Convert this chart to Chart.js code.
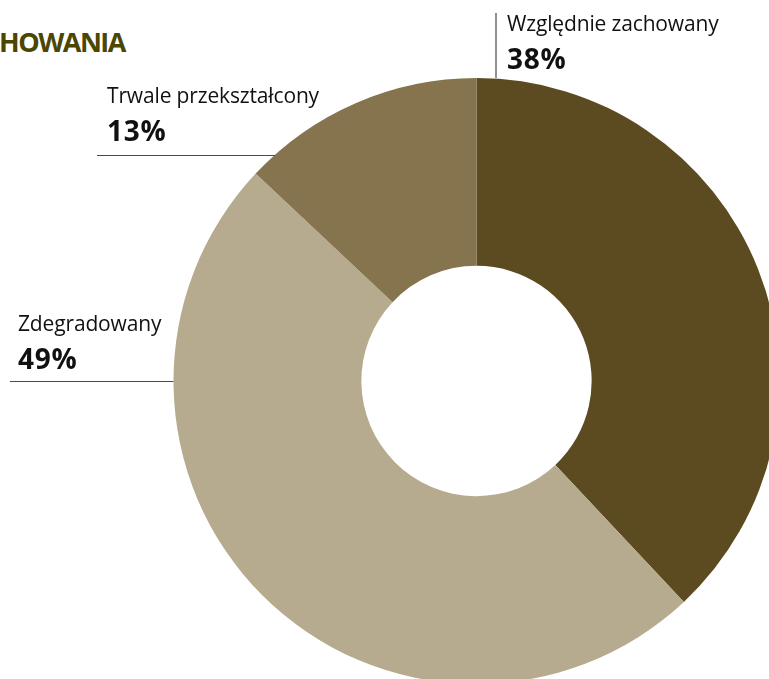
<!DOCTYPE html>
<html>
<head>
<meta charset="utf-8">
<script src="https://cdn.jsdelivr.net/npm/chart.js@4"></script>
<style>
html,body{margin:0;padding:0;width:769px;height:679px;overflow:hidden;background:#fff;}
#wrap{position:absolute;left:0;top:0;width:800px;height:700px;}
canvas{position:absolute;left:0;top:0;}
.lbl{position:absolute;font-family:"Open Sans",sans-serif;color:#111;white-space:nowrap;line-height:1;}
.name{font-size:21px;letter-spacing:-0.15px;}
.pct{font-size:28px;font-weight:700;margin-top:10px;letter-spacing:0.8px;}
#title{position:absolute;left:-1px;top:27.5px;font-family:"Open Sans",sans-serif;font-weight:700;font-size:27px;color:#4b4600;line-height:1;letter-spacing:-1.5px;}
</style>
</head>
<body>
<div id="title">HOWANIA</div>
<div id="wrap"><canvas id="c" width="800" height="700"></canvas></div>
<div id="labels"></div>
<script>
const categories = ["Względnie zachowany", "Zdegradowany", "Trwale przekształcony"];
const shares = [38, 49, 13];
const colors = ["#5c4a20", "#b7ab8f", "#85744d"];
const labelPos = [
  {x: 507, y: 12.5},
  {x: 18, y: 312.5},
  {x: 107, y: 84.5}
];

const leaderPlugin = {
  id: 'leaders',
  afterDraw(chart) {
    const meta = chart.getDatasetMeta(0);
    const arc = meta.data[0];
    const cx = arc.x, cy = arc.y, r = arc.outerRadius;
    const ctx = chart.ctx;
    ctx.save();
    ctx.strokeStyle = '#4a4a4a';
    ctx.lineWidth = 1.2;
    ctx.beginPath();
    ctx.moveTo(cx + 19.5, cy - r);
    ctx.lineTo(cx + 19.5, 13);
    ctx.moveTo(97, 155.5);
    ctx.lineTo(275, 155.5);
    ctx.moveTo(10, cy + 0.5);
    ctx.lineTo(cx - r, cy + 0.5);
    ctx.stroke();
    ctx.restore();
  }
};

new Chart(document.getElementById('c'), {
  type: 'doughnut',
  data: {
    labels: categories,
    datasets: [{
      data: shares,
      backgroundColor: colors,
      borderWidth: 0,
      hoverOffset: 0
    }]
  },
  options: {
    responsive: false,
    animation: false,
    cutout: '38%',
    rotation: 0,
    layout: {padding: {left: 173, top: 78, right: 20, bottom: 16}},
    plugins: {legend: {display: false}, tooltip: {enabled: false}}
  },
  plugins: [leaderPlugin]
});

const lab = document.getElementById('labels');
categories.forEach((c, i) => {
  const d = document.createElement('div');
  d.className = 'lbl';
  d.style.left = labelPos[i].x + 'px';
  d.style.top = labelPos[i].y + 'px';
  d.innerHTML = '<div class="name">' + c + '</div><div class="pct">' + shares[i] + '%</div>';
  lab.appendChild(d);
});
</script>
</body>
</html>
